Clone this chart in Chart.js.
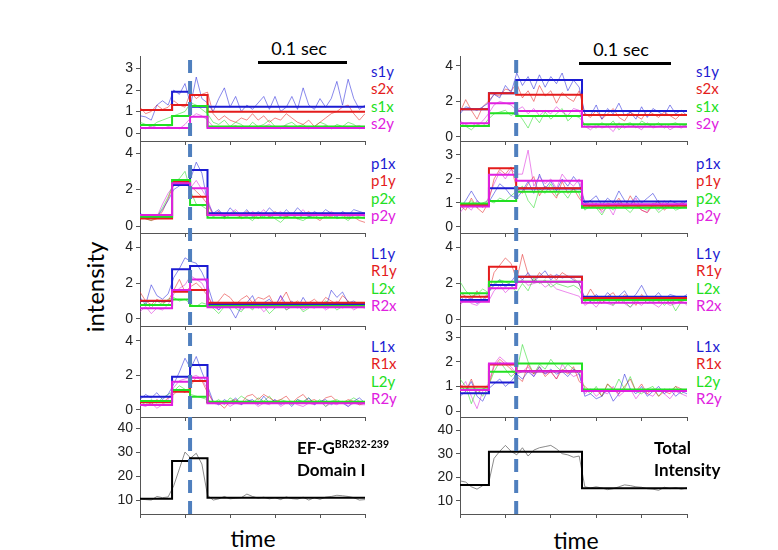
<!DOCTYPE html>
<html>
<head>
<meta charset="utf-8">
<script src="https://cdn.jsdelivr.net/npm/chart.js@4"></script>
<style>
  body { margin: 0; background: #fff; }
  #fig { position: relative; width: 778px; height: 550px; overflow: hidden; font-family: Lato, "Liberation Sans", sans-serif; }
  #fig canvas { position: absolute; }
  .txt { position: absolute; white-space: nowrap; line-height: 1; }
  .bar { position: absolute; background: #000; }
</style>
</head>
<body>
<div id="fig"></div>
<script>
// frame index along the time axis
const frames = [0,1,2,3,4,5,6,7,8,9,10,11,12,13,14,15,16,17,18,19,20,21,22,23,24,25,26,27,28,29,30,31,32,33,34,35,36,37,38,39,40];
const edgesLeft = [0, 5.7, 8.9, 12, 40];
const edgesRight = [0, 5.1, 9.9, 21.5, 40];
const dashLeft = 8.9;
const dashRight = 9.9;

// ---- left column ----
const lS1y = [0.8,0.75,0.6,1.3,1.5,1.3,2.0,1.8,2.3,1.3,2.6,1.6,1.4,1.0,1.6,2.1,1.2,1.7,1.0,1.3,1.1,1.4,1.7,1.1,1.7,1.0,1.2,1.7,1.1,2.1,1.3,1.1,1.6,1.2,1.6,2.4,1.3,2.5,1.6,1.1,1.3];
const lS2x = [1.2,0.9,1.0,1.3,1.1,1.2,1.5,1.3,1.2,1.9,1.6,1.8,1.9,0.9,0.6,0.8,0.6,0.5,0.7,0.6,0.9,0.6,0.8,0.5,0.7,0.6,0.9,0.7,0.5,0.4,0.6,0.3,0.5,0.7,0.9,1.0,1.2,1.3,0.9,0.6,0.9];
const lS1x = [0.5,0.4,0.3,0.5,0.6,0.7,0.8,0.9,1.0,1.4,1.3,1.1,0.9,0.5,0.4,0.6,0.3,0.5,0.4,0.2,0.5,0.3,0.4,0.6,0.3,0.2,0.4,0.5,0.3,0.4,0.2,0.3,0.5,0.4,0.2,0.4,0.3,0.5,0.4,0.2,0.3];
const lS2y = [0.3,0.2,0.35,0.25,0.2,0.3,0.25,0.2,0.4,0.7,0.9,0.8,0.6,0.3,0.2,0.3,0.25,0.35,0.2,0.3,0.25,0.2,0.3,0.4,0.2,0.3,0.35,0.2,0.25,0.3,0.2,0.3,0.25,0.35,0.2,0.3,0.25,0.2,0.3,0.35,0.2];
const lSSteps = [[1.07,1.92,1.22,1.22],[1.07,1.3,1.77,0.99],[0.37,0.79,1.26,0.3],[0.23,0.23,0.76,0.23]];

const lP1x = [0.7,0.5,0.4,0.5,0.9,1.4,2.0,2.2,2.3,2.6,3.5,2.9,1.3,0.7,0.9,0.5,1.0,0.7,0.6,0.9,0.5,0.8,0.6,1.0,0.7,0.5,0.9,0.6,1.0,0.7,0.5,0.8,0.6,0.9,0.7,0.5,0.8,0.6,0.9,0.8,0.7];
const lP1y = [0.5,0.4,0.3,0.4,0.8,1.5,2.3,2.5,2.4,2.2,1.9,1.6,1.2,0.6,0.8,0.5,0.7,0.6,0.5,0.8,0.6,0.4,0.7,0.5,0.8,0.6,0.5,0.7,0.4,0.6,0.8,0.5,0.3,0.6,0.5,0.7,0.6,0.4,0.5,0.3,0.2];
const lP2x = [0.6,0.4,0.3,0.5,1.0,1.6,2.4,2.6,3.0,1.9,1.2,1.1,0.9,0.5,0.7,0.4,0.6,0.8,0.4,0.5,0.3,0.6,0.5,0.7,0.4,0.2,0.5,0.6,0.4,0.3,0.5,0.6,0.4,0.5,0.7,0.4,0.5,0.3,0.6,0.5,0.4];
const lP2y = [0.5,0.6,0.4,0.5,1.2,1.8,2.2,2.4,2.3,2.1,2.5,2.0,1.5,0.6,0.8,0.5,0.7,0.9,0.6,0.5,0.8,0.6,0.9,0.5,0.6,0.8,0.5,0.7,0.6,0.9,0.5,0.6,0.7,0.5,0.8,0.6,0.7,0.5,0.6,0.7,0.5];
const lPSteps = [[0.51,2.25,3.07,0.7],[0.42,2.43,1.6,0.6],[0.51,2.52,1.15,0.46],[0.6,2.34,2.07,0.6]];

const lL1y = [1.2,0.8,1.9,1.3,1.1,1.4,2.3,2.8,3.4,3.2,3.1,2.6,1.9,0.9,0.5,0.9,0.6,0.05,0.7,0.9,1.3,0.6,0.9,1.1,0.7,1.3,0.8,1.0,0.6,1.2,0.7,0.9,0.8,0.6,1.6,1.2,1.5,0.9,1.0,0.8,0.9];
const lR1y = [1.5,1.0,0.8,1.1,0.9,1.0,1.6,2.2,1.5,1.8,2.0,1.7,1.3,0.7,1.0,1.4,1.2,0.8,1.1,1.3,0.9,1.2,1.1,1.3,0.7,1.0,1.5,0.8,1.0,0.7,0.9,1.1,0.8,1.2,1.0,0.8,1.3,1.0,0.7,0.9,0.8];
const lL2x = [0.7,0.9,0.6,1.0,0.8,1.1,1.2,1.0,1.1,0.8,0.7,0.9,0.8,0.6,0.3,0.7,0.9,0.6,0.4,0.8,0.5,0.9,0.7,0.3,0.6,0.9,0.5,0.7,0.8,0.4,0.6,0.9,0.7,1.0,0.8,0.5,0.7,1.0,0.6,0.8,0.7];
const lR2x = [0.4,0.7,0.3,0.6,0.5,0.8,1.4,1.7,1.9,2.4,2.2,2.0,1.4,0.7,0.5,0.8,0.6,0.9,0.5,0.7,0.6,0.8,0.4,0.7,0.6,1.3,0.5,0.7,0.9,0.5,0.7,0.6,0.8,0.5,0.7,1.0,0.6,0.8,0.5,0.7,0.6];
const lLRySteps = [[1.0,2.76,2.94,0.83],[1.02,1.52,1.61,0.9],[0.78,1.09,0.72,0.72],[0.59,1.61,2.2,0.65]];

const lL1x = [0.6,0.9,0.7,1.0,0.6,0.9,1.5,2.2,3.0,2.4,3.1,2.2,1.4,0.5,0.3,0.6,0.4,0.7,0.3,0.5,0.6,0.3,0.8,0.4,0.6,0.3,0.5,0.2,0.6,0.4,0.7,0.3,0.5,0.6,0.3,0.5,0.4,0.2,0.5,0.7,0.4];
const lR1x = [0.4,0.5,0.3,0.6,0.4,0.7,0.9,1.2,1.0,1.4,1.9,1.7,1.0,0.5,0.4,0.1,0.5,0.6,0.4,0.8,0.9,0.6,0.9,0.7,0.5,0.6,0.8,0.4,0.7,0.9,0.5,0.6,0.4,0.7,0.8,0.5,0.4,0.6,0.5,0.3,0.4];
const lL2y = [0.5,0.3,0.6,0.4,0.7,0.9,1.1,1.4,1.2,0.9,0.8,0.7,0.6,0.4,0.6,0.3,0.7,0.5,0.8,0.6,0.4,0.7,0.5,0.8,0.4,0.6,0.5,0.3,0.6,0.5,0.7,0.4,0.6,0.2,0.5,0.6,0.4,0.5,0.7,0.5,0.4];
const lR2y = [0.3,0.2,0.4,0.1,0.3,0.6,1.3,1.7,1.8,1.9,2.0,1.8,1.2,0.4,0.3,0.5,0.2,0.4,0.3,0.6,0.5,0.2,0.4,0.3,0.6,0.2,0.4,0.5,0.3,0.2,0.4,0.3,0.5,0.2,0.4,0.3,0.5,0.2,0.4,0.3,0.3];
const lLRxSteps = [[0.77,1.93,2.6,0.45],[0.45,1.06,1.68,0.45],[0.52,1.16,0.77,0.48],[0.29,1.64,1.87,0.39]];

const lTotal = [10.5,10.2,10.0,11.5,11.0,11.3,16,23,30,27.5,29.5,25,12,10,10.5,11.5,10.5,10.8,11.0,12.5,11.5,10.8,11.2,10.5,11.0,10.2,11.3,10.6,10.4,11.2,10.0,11.0,10.3,11.2,11.5,12.0,11.8,11.5,11.0,10.0,10.2];
const lTotalStep = [10.5,26.3,27.4,11];

// ---- right column ----
const rS1y = [1.3,1.7,1.6,1.5,1.7,1.9,2.4,2.2,2.9,2.5,3.6,2.9,3.4,2.7,3.5,2.8,3.4,3.0,3.6,2.6,3.2,2.8,1.3,1.2,1.8,1.0,1.6,1.3,1.9,1.2,1.4,1.0,1.7,1.1,1.6,1.4,1.2,1.8,1.3,1.5,1.2];
const rS2x = [1.4,2.1,1.5,1.0,1.7,2.0,2.4,2.3,2.7,2.6,3.0,2.2,2.6,2.0,2.9,2.3,2.6,1.9,2.5,2.2,2.0,2.6,1.3,1.1,1.5,1.0,1.3,1.6,1.1,0.9,1.4,1.2,1.0,1.5,1.3,1.1,1.4,1.2,1.0,1.3,1.2];
const rS1x = [0.8,0.6,0.4,0.7,0.6,1.0,1.3,1.4,1.5,1.2,1.4,1.0,0.5,1.2,0.8,1.4,1.0,1.3,1.6,0.9,1.2,1.1,0.7,0.6,0.5,0.8,0.6,0.9,0.4,0.7,0.8,0.5,0.9,0.7,0.6,0.8,0.5,0.7,0.8,0.6,0.7];
const rS2y = [0.9,0.7,0.8,0.6,0.9,1.3,1.8,2.0,1.9,1.8,1.5,1.7,1.3,1.6,1.2,1.5,1.3,1.7,1.4,1.2,1.6,1.5,0.6,0.4,0.7,0.5,0.6,0.3,0.8,0.5,0.7,0.6,0.4,0.8,0.5,0.6,0.7,0.4,0.6,0.5,0.7];
const rSSteps = [[1.56,2.46,3.21,1.46],[1.56,2.46,2.37,1.24],[0.62,1.33,1.18,0.71],[0.77,1.9,1.46,0.58]];

const rP1x = [0.8,1.1,1.5,1.1,0.9,1.0,1.4,1.8,1.6,1.3,1.2,1.5,1.9,1.4,2.2,1.6,1.9,1.5,2.0,1.7,2.1,1.8,1.0,1.1,1.3,0.9,1.2,1.0,1.5,1.1,0.9,1.3,1.0,1.2,1.4,1.0,0.8,1.1,1.0,0.9,1.1];
const rP1y = [0.9,0.7,1.2,0.8,0.6,1.0,2.0,2.4,2.2,2.5,1.6,1.4,1.8,2.1,1.3,1.7,1.5,1.2,1.9,1.4,1.6,1.2,0.9,1.1,0.8,0.7,1.0,0.9,1.2,0.8,1.3,0.9,0.7,0.6,0.9,1.1,0.7,0.9,0.8,1.0,0.9];
const rP2x = [1.0,0.9,1.1,0.8,1.0,1.1,1.0,1.2,1.1,1.3,1.5,1.7,1.1,0.8,1.6,1.4,1.8,1.3,1.5,1.2,1.6,1.4,0.7,0.9,0.8,0.5,0.9,0.7,1.0,0.8,0.6,0.9,0.8,0.7,0.9,0.6,0.8,0.9,0.7,0.8,0.9];
const rP2y = [0.6,0.9,0.7,1.1,0.8,1.2,1.8,2.3,2.0,2.4,2.2,2.2,3.2,1.7,2.1,1.8,2.0,1.6,2.2,1.9,1.7,2.0,1.0,0.8,1.0,0.6,0.9,0.5,1.1,0.8,0.9,1.2,0.7,0.6,1.0,0.7,1.1,0.8,0.9,1.0,1.1];
const rPSteps = [[0.92,1.61,1.6,1.06],[0.92,2.45,1.61,0.88],[0.98,1.08,1.47,0.8],[0.85,2.17,1.92,0.95]];

const rL1y = [1.3,1.0,1.2,0.9,1.1,1.5,1.9,2.2,1.8,2.1,2.5,2.2,2.6,2.1,2.4,2.7,2.2,2.5,2.3,2.4,2.2,2.0,1.2,1.0,1.4,1.1,1.5,1.2,1.3,1.6,1.1,1.4,1.9,1.3,1.2,1.5,1.1,1.4,1.3,1.2,1.4];
const rR1y = [1.5,1.3,1.1,1.6,1.0,1.4,2.6,3.0,3.4,3.1,2.2,3.6,2.5,2.1,2.6,2.3,2.5,2.2,2.6,2.4,2.3,2.0,1.1,1.7,1.2,0.9,1.3,1.5,1.0,1.4,1.2,0.8,1.4,1.1,1.3,1.0,1.2,0.9,1.1,1.0,1.3];
const rL2x = [2.1,1.6,1.3,1.4,1.7,1.5,2.0,2.2,2.1,1.9,1.5,2.0,1.6,2.3,2.0,2.2,1.8,2.0,1.9,1.8,1.9,1.7,1.0,1.2,0.9,1.3,1.1,0.8,1.2,1.0,0.7,1.1,1.3,0.9,1.0,1.2,0.8,1.1,0.5,1.0,0.9];
const rR2x = [0.8,1.2,0.9,0.8,1.1,1.0,1.6,1.9,1.5,1.8,2.0,2.2,1.9,2.0,2.1,1.8,2.0,1.7,1.6,1.5,1.4,1.3,0.8,1.0,0.7,1.1,0.9,0.8,1.2,0.9,0.7,1.0,0.8,1.1,0.9,0.7,1.0,0.8,0.9,1.1,0.8];
const rLRySteps = [[1.1,1.92,2.37,1.28],[1.28,2.92,2.37,1.2],[1.46,2.1,2.1,1.1],[1.0,1.74,2.1,0.95]];

const rL1x = [0.6,0.8,1.2,0.6,0.4,0.9,1.1,1.3,1.0,1.2,1.5,1.3,1.6,1.4,1.8,1.5,1.7,1.5,1.6,1.4,1.7,1.5,0.6,0.7,0.5,0.6,0.9,0.4,0.7,1.5,0.9,0.7,1.0,0.6,0.8,1.0,0.7,0.9,0.6,0.8,0.7];
const rR1x = [1.1,0.8,1.3,0.7,0.9,1.0,1.8,2.1,1.9,1.7,1.4,1.2,1.9,1.5,1.8,1.4,1.6,1.3,1.7,1.5,1.8,1.2,1.0,0.8,0.9,0.6,1.1,0.9,0.7,1.0,1.3,0.8,1.1,0.7,0.9,0.6,0.8,0.7,1.0,0.9,0.8];
const rL2y = [1.3,1.0,0.3,0.9,0.6,1.0,1.6,2.0,1.7,1.4,1.6,2.7,2.0,1.5,1.9,1.7,2.1,1.8,1.6,1.9,1.7,1.6,0.9,0.7,1.0,0.6,1.1,0.8,1.3,0.9,1.4,0.8,0.7,0.9,1.0,0.6,0.9,0.8,1.0,0.7,0.9];
const rR2y = [0.9,1.2,0.6,0.1,0.8,1.1,1.9,2.2,2.0,1.8,1.5,1.6,1.8,1.4,1.7,1.5,1.6,1.3,1.9,1.6,1.4,1.5,0.7,0.9,0.6,0.8,0.7,1.0,0.6,0.8,0.9,0.5,0.8,0.7,0.6,0.9,0.7,0.5,0.8,0.7,0.6];
const rLRxSteps = [[0.72,1.16,1.62,0.81],[0.99,1.89,1.62,0.81],[0.88,1.59,1.93,0.88],[0.85,1.93,1.62,0.81]];

const rTotal = [18.5,18.0,16.0,15.0,16.5,17.0,28.0,31.0,33.5,31.0,29.5,32.5,29.0,31.5,32.5,33.0,33.5,32.0,30.0,29.5,28.5,29.0,16.0,15.5,16.0,15.5,14.8,15.2,16.0,16.8,16.5,16.0,15.8,15.2,15.0,14.5,15.8,15.2,15.6,15.0,15.5];
const rTotalStep = [16.75,30.8,30.8,15.4];

const legendRows = [
  ['s1y', 's2x', 's1x', 's2y'],
  ['p1x', 'p1y', 'p2x', 'p2y'],
  ['L1y', 'R1y', 'L2x', 'R2x'],
  ['L1x', 'R1x', 'L2y', 'R2y']
];
const legendCentres = [72, 164, 254, 347];

const lineColors = ['#1c1cd2', '#e41c1c', '#22e022', '#e020e0'];
const traceColors = ['rgba(40,40,220,0.55)', 'rgba(230,40,40,0.55)', 'rgba(40,220,40,0.55)', 'rgba(220,40,220,0.55)'];
const AXIS = '#555';
const PAD = 12;

// panel rows (pixel bands) shared by both columns
const rowTop = [56, 141, 233, 326, 417];
const rowBottom = [141, 233, 326, 417, 514];
const columns = [
  { left: 140, width: 225, edges: edgesLeft, dash: dashLeft, legendX: 371,
    panels: [
      { traces: [lS1y, lS2x, lS1x, lS2y], steps: lSSteps, min: -0.37, max: 3.58, step: 1 },
      { traces: [lP1x, lP1y, lP2x, lP2y], steps: lPSteps, min: -0.38, max: 4.66, step: 2 },
      { traces: [lL1y, lR1y, lL2x, lR2x], steps: lLRySteps, min: -0.39, max: 4.78, step: 2 },
      { traces: [lL1x, lR1x, lL2y, lR2y], steps: lLRxSteps, min: -0.41, max: 4.87, step: 2 },
      { total: lTotal, totalStep: lTotalStep, min: 4.2, max: 44.6, step: 10 }
    ] },
  { left: 460, width: 227, edges: edgesRight, dash: dashRight, legendX: 696,
    panels: [
      { traces: [rS1y, rS2x, rS1x, rS2y], steps: rSSteps, min: -0.23, max: 4.56, step: 2 },
      { traces: [rP1x, rP1y, rP2x, rP2y], steps: rPSteps, min: -0.25, max: 3.58, step: 1 },
      { traces: [rL1y, rR1y, rL2x, rR2x], steps: rLRySteps, min: -0.33, max: 4.77, step: 2 },
      { traces: [rL1x, rR1x, rL2y, rR2y], steps: rLRxSteps, min: -0.24, max: 3.45, step: 1 },
      { total: rTotal, totalStep: rTotalStep, min: 4.5, max: 45.5, step: 10 }
    ] }
];

const fig = document.getElementById('fig');

function addText(html, x, y, css) {
  const d = document.createElement('div');
  d.className = 'txt';
  d.innerHTML = html;
  d.style.left = x + 'px';
  d.style.top = y + 'px';
  Object.assign(d.style, css || {});
  fig.appendChild(d);
  return d;
}

function stepPoints(edges, levels) {
  return edges.map((x, i) => ({ x, y: levels[Math.min(i, levels.length - 1)] }));
}

function tracePoints(values) {
  return values.map((y, i) => ({ x: frames[i], y }));
}

function makeCanvas(x, y, w, h, z) {
  const c = document.createElement('canvas');
  c.width = w; c.height = h;
  c.style.left = x + 'px'; c.style.top = y + 'px';
  c.style.zIndex = z;
  fig.appendChild(c);
  return c;
}

function panelOptions(p) {
  return {
    responsive: false,
    animation: false,
    events: [],
    layout: { padding: { top: PAD, right: PAD, left: 0, bottom: 0 } },
    plugins: { legend: { display: false }, tooltip: { enabled: false } },
    elements: { point: { radius: 0 } },
    scales: {
      x: {
        type: 'linear', min: 0, max: 40,
        ticks: { stepSize: 8, callback: () => '' },
        grid: { drawOnChartArea: false, tickLength: 4, color: AXIS },
        border: { color: AXIS, width: 1 },
        afterFit: s => { s.height = 5; s.paddingLeft = 0; s.paddingRight = 0; }
      },
      y: {
        type: 'linear', min: p.min, max: p.max,
        ticks: { stepSize: p.step, includeBounds: false, padding: 3, color: '#222',
                 font: { family: 'Liberation Sans', size: 14 } },
        grid: { drawOnChartArea: false, tickLength: 4, color: AXIS },
        border: { color: AXIS, width: 1 },
        afterFit: s => { s.width = 40; s.paddingTop = 0; s.paddingBottom = 0; }
      }
    }
  };
}

columns.forEach(col => {
  col.panels.forEach((p, r) => {
    const h = rowBottom[r] - rowTop[r];
    const canvas = makeCanvas(col.left - 40, rowTop[r] - PAD, 40 + col.width + PAD, PAD + h + 5, 1 + r);
    const datasets = [];
    if (p.traces) {
      // blue underneath, magenta on top (lower order is drawn later)
      p.steps.forEach((lv, i) => datasets.push({
        data: stepPoints(col.edges, lv), stepped: 'before', borderColor: lineColors[i],
        borderWidth: 2, order: 4 - i
      }));
      p.traces.forEach((t, i) => datasets.push({
        data: tracePoints(t), borderColor: traceColors[i], borderWidth: 1, order: 10
      }));
    } else {
      datasets.push({ data: stepPoints(col.edges, p.totalStep), stepped: 'before',
        borderColor: '#000', borderWidth: 2, order: 0 });
      datasets.push({ data: tracePoints(p.total), borderColor: 'rgba(110,110,110,0.8)',
        borderWidth: 1, order: 1 });
    }
    new Chart(canvas, { type: 'line', data: { datasets }, options: panelOptions(p) });

    if (r < 4) {
      legendRows[r].forEach((lab, i) => {
        addText(lab, col.legendX, legendCentres[r] - 8 + i * 17.3,
          { fontSize: '15px', color: lineColors[i] });
      });
    }
  });

  // dashed marker spanning all five panels
  const top = rowTop[0], bottom = rowBottom[4];
  const dc = makeCanvas(col.left, top, col.width, bottom - top, 20);
  new Chart(dc, {
    type: 'line',
    data: { datasets: [{ data: [{ x: col.dash, y: 0 }, { x: col.dash, y: 1 }],
      borderColor: '#4f7fbe', borderWidth: 4, borderDash: [13, 8] }] },
    options: {
      responsive: false, animation: false, events: [],
      layout: { padding: 0 },
      plugins: { legend: { display: false }, tooltip: { enabled: false } },
      elements: { point: { radius: 0 } },
      scales: { x: { type: 'linear', min: 0, max: 40, display: false },
                y: { type: 'linear', min: 0, max: 1, display: false } }
    }
  });
});

// axis titles and annotations
addText('intensity', 95, 287, { fontSize: '24px', transform: 'translate(-50%,-50%) rotate(-90deg)' });
addText('time', 253, 538, { fontSize: '23px', transform: 'translate(-50%,-50%)' });
addText('time', 576, 540, { fontSize: '23px', transform: 'translate(-50%,-50%)' });

addText('0.1 sec', 299, 48, { fontSize: '18px', transform: 'translate(-50%,-50%)' });
addText('0.1 sec', 621, 49, { fontSize: '18px', transform: 'translate(-50%,-50%)' });
[[258, 61, 89], [579, 62, 92]].forEach(([x, y, w]) => {
  const b = document.createElement('div');
  b.className = 'bar';
  b.style.left = x + 'px'; b.style.top = y + 'px';
  b.style.width = w + 'px'; b.style.height = '3px';
  fig.appendChild(b);
});

addText('EF-G<span style="font-size:10.5px;position:relative;top:-6px">BR232-239</span>', 297, 439,
  { fontSize: '17px', fontWeight: 'bold', zIndex: 30 });
addText('Domain I', 297, 461, { fontSize: '17px', fontWeight: 'bold', zIndex: 30 });
addText('Total', 654, 439, { fontSize: '17px', fontWeight: 'bold', zIndex: 30 });
addText('Intensity', 654, 461, { fontSize: '17px', fontWeight: 'bold', zIndex: 30 });
</script>
</body>
</html>
